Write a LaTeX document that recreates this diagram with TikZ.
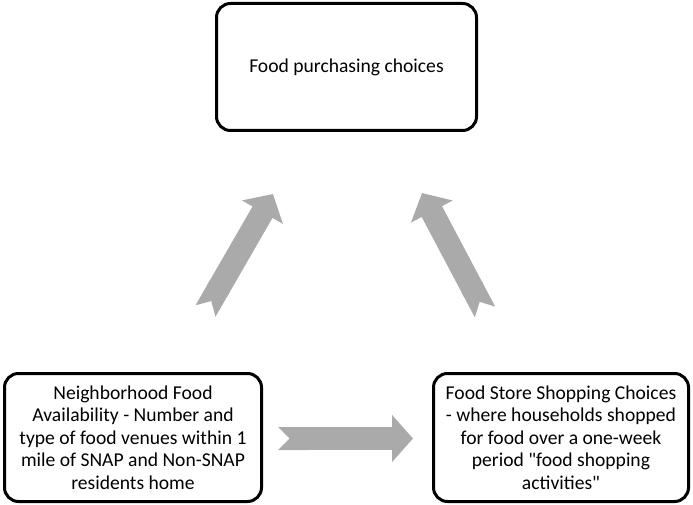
\documentclass[tikz,border=0pt]{standalone}
\usepackage{fontspec}
\setmainfont{Carlito}
\usepackage{tikz}
\usetikzlibrary{arrows.meta}
\definecolor{arrowgray}{RGB}{170,170,170}
\tikzset{
  box/.style={draw=black, line width=3pt, rounded corners=14pt, align=center,
    font=\fontsize{19.6}{22.5}\selectfont},
  fatarrow/.style={draw=arrowgray, line width=23pt,
    {Triangle Cap[reversed]}-{Triangle[length=21pt,width=46pt]}}
}

\begin{document}
\begin{tikzpicture}[x=1pt,y=1pt]
\useasboundingbox (0,0) rectangle (693,-505);
% boxes
\node[box, minimum width=260pt, minimum height=127pt] (choices) at (346.5,-67) {Food purchasing choices};
\node[box, minimum width=257pt, minimum height=128pt] (avail) at (133,-437.5) {Neighborhood Food\\ Availability - Number and\\ type of food venues within 1\\ mile of SNAP and Non-SNAP\\ residents home};
\node[box, minimum width=255pt, minimum height=128pt] (store) at (561,-437.5) {Food Store Shopping Choices\\ - where households shopped\\ for food over a one-week\\ period \textquotedbl food shopping\\ activities\textquotedbl};
% arrow ends
\coordinate (lt) at (205.5,-311);
\coordinate (lh) at (273,-194);
\coordinate (rt) at (485,-312);
\coordinate (rh) at (422,-193);
\coordinate (bt) at (278,-438.5);
\coordinate (bh) at (413,-438.5);
\draw[fatarrow] (lt) -- (lh);
\draw[fatarrow] (rt) -- (rh);
\draw[fatarrow] (bt) -- (bh);
\end{tikzpicture}
\end{document}
